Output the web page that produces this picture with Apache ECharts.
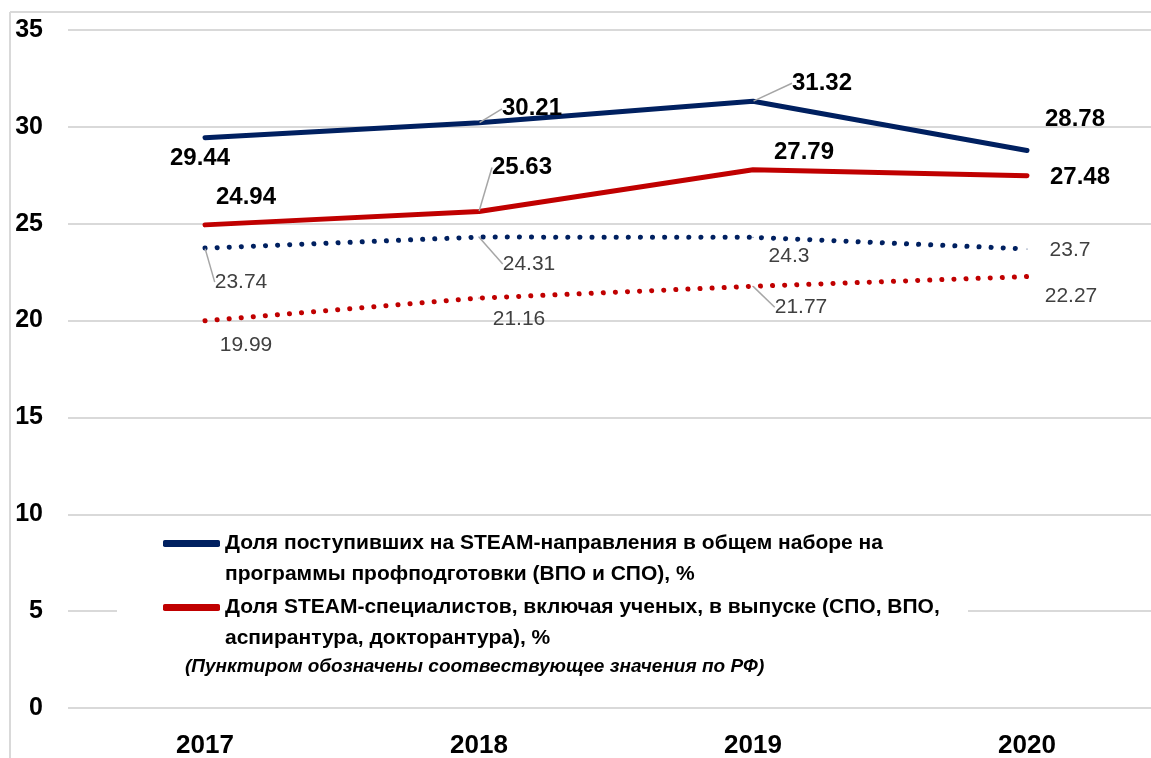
<!DOCTYPE html>
<html>
<head>
<meta charset="utf-8">
<script src="https://cdn.jsdelivr.net/npm/echarts@6/dist/echarts.min.js"></script>
<style>
  body { margin: 0; background: #fff; }
  #main { width: 1151px; height: 758px; }
</style>
</head>
<body>
<div id="main"></div>
<script>
// годы
var years = ['2017', '2018', '2019', '2020'];
// доля поступивших на STEAM (регион и РФ)
var enrolled = [29.44, 30.21, 31.32, 28.78];
var enrolledRF = [23.74, 24.31, 24.3, 23.7];
// доля STEAM-специалистов в выпуске (регион и РФ)
var graduates = [24.94, 25.63, 27.79, 27.48];
var graduatesRF = [19.99, 21.16, 21.77, 22.27];
var yTicks = [0, 5, 10, 15, 20, 25, 30, 35];

var names = [
  'Доля поступивших на STEAM-направления в общем наборе на\nпрограммы профподготовки (ВПО и СПО), %',
  'Доля STEAM-специалистов, включая ученых, в выпуске (СПО, ВПО,\nаспирантура, докторантура), %'
];
var note = '(Пунктиром обозначены соотвествующее значения по РФ)';

var BLUE = '#002060', RED = '#c00000';

// сдвиг подписей от точки (центр подписи), по сериям
var labelShift = [
  [[-5, 21], [53, -14], [69, -18], [48, -31]],
  [[41, -28], [43, -44], [51, -17], [53, 2]],
  [[36, 34], [50, 27], [36, 19], [43, 1]],
  [[41, 24], [40, 21], [48, 21], [44, 20]]
];
// где нужны выноски
var leaders = [[1, 2], [1], [0, 1], [2]];

function toData(arr, s) {
  return arr.map(function (v, i) {
    return { value: v, labelLine: { show: leaders[s].indexOf(i) >= 0 } };
  });
}

var boldLabel = {
  show: true, position: 'inside', color: '#000',
  fontFamily: 'Liberation Sans', fontWeight: 'bold', fontSize: 24
};
var thinLabel = {
  show: true, position: 'inside', color: '#404040',
  fontFamily: 'Liberation Sans', fontSize: 21
};
var guide = { show: false, lineStyle: { color: '#a6a6a6', width: 1.5 } };

function mkSeries(name, arr, s, color, dotted) {
  return {
    name: name,
    type: 'line',
    data: toData(arr, s),
    symbol: 'circle',
    symbolSize: 1,
    itemStyle: { color: color },
    lineStyle: dotted
      ? { color: color, width: 5, type: [0.1, 12], cap: 'round' }
      : { color: color, width: 5, cap: 'round' },
    label: dotted ? thinLabel : boldLabel,
    labelLine: guide,
    labelLayout: function (p) {
      var o = labelShift[s][p.dataIndex];
      return { dx: o[0], dy: o[1] };
    },
    emphasis: { disabled: true },
    z: dotted ? 2 : 3
  };
}

var chart = echarts.init(document.getElementById('main'));
var legendText = {
  fontFamily: 'Liberation Sans', fontWeight: 'bold', fontSize: 21,
  color: '#000', lineHeight: 31
};
// пустая первая строка, чтобы маркер стоял у первой строки текста
function legendFmt(n) { return '\n' + n; }

chart.setOption({
  animation: false,
  // сетка шире окна, как в исходнике (последняя полоса обрезана)
  grid: { left: 68, right: -13, top: 30, bottom: 50, outerBoundsMode: 'none' },
  xAxis: {
    type: 'category',
    data: years,
    axisLine: { show: false },
    axisTick: { show: false },
    axisLabel: {
      margin: 25, color: '#000',
      fontFamily: 'Liberation Sans', fontWeight: 'bold', fontSize: 26
    }
  },
  yAxis: {
    type: 'value',
    min: yTicks[0], max: yTicks[yTicks.length - 1], interval: 5,
    axisLine: { show: false },
    axisTick: { show: false },
    splitLine: { lineStyle: { color: '#d9d9d9', width: 2 } },
    axisLabel: {
      margin: 25, color: '#000',
      fontFamily: 'Liberation Sans', fontWeight: 'bold', fontSize: 25
    }
  },
  legend: [
    {
      data: [names[0]], left: 163, top: 497, padding: 0,
      icon: 'roundRect', itemWidth: 57, itemHeight: 7,
      formatter: legendFmt, textStyle: legendText, selectedMode: false
    },
    {
      data: [names[1]], left: 163, top: 561, padding: 0,
      icon: 'roundRect', itemWidth: 57, itemHeight: 7,
      formatter: legendFmt, textStyle: legendText, selectedMode: false
    }
  ],
  graphic: [
    // рамка
    { type: 'line', shape: { x1: 10, y1: 12, x2: 1151, y2: 12 },
      style: { stroke: '#d9d9d9', lineWidth: 2 }, z: 1 },
    { type: 'line', shape: { x1: 10, y1: 12, x2: 10, y2: 758 },
      style: { stroke: '#d9d9d9', lineWidth: 2 }, z: 1 },
    // белая подложка легенды
    { type: 'rect', shape: { x: 117, y: 522, width: 851, height: 170 },
      style: { fill: '#fff' }, z: 1 },
    { type: 'text', left: 185, top: 657, z: 5,
      style: { text: note, fill: '#000', font: 'italic bold 19px "Liberation Sans"' } }
  ],
  series: [
    mkSeries(names[0], enrolled, 0, BLUE, false),
    mkSeries(names[1], graduates, 1, RED, false),
    mkSeries('РФ поступившие', enrolledRF, 2, BLUE, true),
    mkSeries('РФ выпуск', graduatesRF, 3, RED, true)
  ]
});
</script>
</body>
</html>
